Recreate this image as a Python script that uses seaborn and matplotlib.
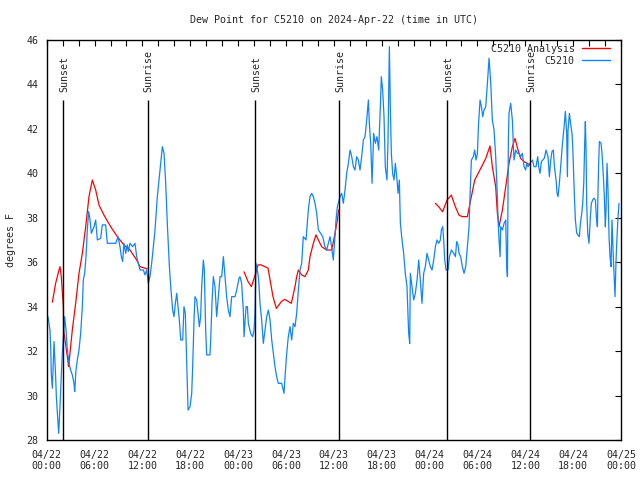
import matplotlib
matplotlib.use("Agg")
import matplotlib.pyplot as plt
from matplotlib.lines import Line2D
from matplotlib.ticker import MultipleLocator
import pandas as pd
import seaborn as sns

# hours since 2024-04-22 00:00 UTC
obs_hours = [0.16, 0.41, 0.50, 0.58, 0.71, 0.92, 1.12, 1.21, 1.42, 1.50, 1.67, 1.83, 1.96,
             2.25, 2.42, 2.59, 2.80, 3.00, 3.21, 3.42, 3.51, 3.67, 3.84, 4.05, 4.26, 4.47,
             4.59, 4.76, 4.93, 5.09, 5.26, 5.43, 5.60, 5.93, 6.14, 6.35, 6.77, 6.97, 7.39,
             7.60, 8.65, 8.94, 9.19, 9.36, 9.52, 9.69, 9.90, 10.11, 10.23, 10.44, 10.78,
             11.07, 11.28, 11.49, 11.70, 12.12, 12.32, 12.53, 12.74, 12.95, 13.16, 13.58,
             13.87, 14.20, 14.50, 14.71, 14.92, 15.12, 15.38, 15.58, 15.79, 15.96, 16.13,
             16.30, 16.42, 16.63, 16.80, 17.05, 17.21, 17.38, 17.55, 17.72, 17.97, 18.18,
             18.30, 18.47, 18.59, 18.80, 19.01, 19.14, 19.30, 19.43, 19.64, 19.76, 19.93,
             20.06, 20.47, 20.56, 20.72, 20.89, 21.10, 21.31, 21.52, 21.73, 21.94, 22.15,
             22.35, 22.56, 22.77, 22.98, 23.19, 23.61, 23.82, 24.11, 24.23, 24.44, 24.65,
             24.74, 24.99, 25.16, 25.28, 25.57, 25.82, 25.99, 26.11, 26.24, 26.41, 26.58,
             26.74, 26.95, 27.16, 27.37, 27.58, 27.79, 28.00, 28.21, 28.41, 28.62, 28.83,
             29.04, 29.46, 29.75, 29.88, 30.09, 30.29, 30.50, 30.71, 30.92, 31.13, 31.34,
             31.55, 31.76, 31.97, 32.17, 32.51, 32.80, 33.01, 33.22, 33.43, 33.64, 33.85,
             34.06, 34.35, 34.60, 34.89, 35.10, 35.31, 35.52, 35.72, 35.93, 36.14, 36.27,
             36.44, 36.61, 36.77, 36.98, 37.19, 37.40, 37.61, 37.82, 38.03, 38.24, 38.45,
             38.65, 38.86, 39.07, 39.28, 39.49, 39.70, 39.91, 40.12, 40.33, 40.45, 40.62,
             40.79, 40.99, 41.20, 41.41, 41.62, 41.83, 41.95, 42.12, 42.29, 42.45, 42.66,
             42.79, 42.96, 43.08, 43.21, 43.37, 43.54, 43.71, 43.92, 44.05, 44.21, 44.34,
             44.55, 44.75, 44.96, 45.17, 45.38, 45.51, 45.59, 45.80, 46.01, 46.22, 46.43,
             46.64, 46.84, 47.05, 47.26, 47.47, 47.68, 47.89, 48.10, 48.31, 48.52, 48.73,
             48.93, 49.14, 49.35, 49.48, 49.65, 49.77, 49.90, 50.07, 50.32, 50.49, 50.74,
             51.03, 51.24, 51.40, 51.57, 51.69, 51.90, 52.11, 52.32, 52.53, 52.74, 52.95,
             53.07, 53.24, 53.49, 53.66, 53.83, 54.00, 54.12, 54.33, 54.50, 54.66, 54.83,
             55.04, 55.25, 55.46, 55.67, 55.87, 56.08, 56.29, 56.42, 56.58, 56.71, 56.84,
             56.92, 57.13, 57.34, 57.55, 57.67, 57.76, 57.88, 57.96, 58.17, 58.38, 58.51,
             58.59, 58.80, 59.01, 59.21, 59.42, 59.63, 59.84, 60.05, 60.18, 60.35, 60.60,
             60.89, 61.10, 61.35, 61.56, 61.68, 61.85, 62.02, 62.39, 62.60, 62.85, 63.02,
             63.19, 63.35, 63.52, 63.65, 63.86, 63.98, 64.11, 64.27, 64.44, 64.61, 64.77,
             64.94, 65.03, 65.19, 65.28, 65.36, 65.53, 65.70, 65.86, 65.95, 66.16, 66.28,
             66.45, 66.78, 66.91, 67.08, 67.20, 67.33, 67.45, 67.53, 67.62, 67.70, 67.83,
             67.99, 68.16, 68.28, 68.45, 68.62, 68.79, 68.91, 69.04, 69.12, 69.20, 69.29,
             69.50, 69.62, 69.79, 69.91, 70.04, 70.12, 70.25, 70.37, 70.50, 70.62, 70.75,
             70.87, 71.00, 71.12, 71.25, 71.38, 71.50, 71.63, 71.75]
obs_dewpt = [33.55, 32.95, 32.13, 30.93, 30.33, 32.43, 30.85, 29.95, 28.75, 28.3, 29.5, 30.93, 31.9,
             33.55, 32.95, 32.05, 31.45, 31.15, 30.93, 30.55, 30.18, 31.15, 31.6, 32.05, 32.8, 34.0,
             35.2, 35.5, 36.25, 37.45, 38.28, 37.9, 37.3, 37.6, 37.9, 37.0, 37.08, 37.68, 37.68,
             36.85, 36.85, 37.15, 36.7, 36.25, 36.03, 36.85, 36.4, 36.78, 36.48, 36.85, 36.7,
             36.85, 36.25, 35.95, 35.65, 35.65, 35.43, 35.65, 35.05, 35.35, 35.95, 37.45,
             38.95, 40.15, 41.2, 40.9, 39.55, 37.75, 35.8, 34.75, 33.85, 33.55, 34.15,
             34.6, 34.15, 33.4, 32.5, 32.5, 34.0, 33.7, 31.45, 29.35, 29.5, 30.1,
             31.3, 33.4, 34.45, 34.3, 33.55, 33.1, 33.55, 34.9, 36.1, 35.65, 32.95,
             31.83, 31.83, 32.5, 34.15, 35.35, 34.9, 33.55, 34.45, 35.35, 35.35, 36.25,
             35.35, 34.45, 33.85, 33.55, 34.45, 34.45, 34.75, 35.28, 35.35, 35.05, 33.85,
             32.65, 34.0, 34.0, 33.25, 32.8, 32.65, 32.95, 33.7, 35.95, 35.65, 35.2,
             34.15, 33.4, 32.35, 32.95, 33.55, 33.85, 33.4, 32.5, 31.9, 31.3, 30.85,
             30.55, 30.55, 30.1, 30.85, 31.9, 32.65, 33.1, 32.5, 33.25, 33.1, 33.7,
             34.75, 35.65, 35.95, 37.15, 37.0, 38.35, 38.95, 39.1, 38.95, 38.65, 38.2,
             37.45, 37.3, 37.15, 36.7, 36.55, 36.85, 37.15, 36.7, 36.1, 37.15, 37.9,
             38.5, 38.73, 38.95, 39.1, 38.65, 39.25, 40.0, 40.45, 41.05, 40.75, 40.3,
             40.15, 40.75, 40.6, 40.15, 40.75, 41.5, 41.65, 42.4, 43.3, 42.25, 41.35,
             39.55, 41.8, 41.35, 41.65, 41.05, 43.0, 44.35, 43.75, 42.55, 40.3, 39.7,
             41.5, 45.7, 43.0, 40.9, 40.0, 39.7, 40.45, 39.7, 39.1, 39.7, 37.75,
             37.0, 36.4, 35.5, 34.9, 32.8, 32.35, 35.5, 34.9, 34.3, 34.6, 35.2,
             36.1, 35.2, 34.15, 35.5, 35.8, 36.4, 36.1, 35.8, 35.65, 36.1, 36.7,
             37.0, 36.85, 37.0, 37.45, 37.6, 37.0, 36.1, 35.65, 35.65, 36.25, 36.55,
             36.4, 36.25, 36.93, 36.78, 36.4, 36.25, 35.8, 35.5, 35.8, 36.7, 37.6,
             38.95, 40.6, 40.75, 41.05, 40.6, 40.9, 42.1, 43.3, 43.0, 42.55, 42.85,
             43.0, 44.05, 45.18, 44.05, 42.4, 41.95, 40.75, 39.7, 38.05, 37.0, 36.25,
             37.6, 37.45, 37.75, 37.9, 35.8, 35.35, 41.5, 42.7, 43.15, 42.4, 41.2,
             40.6, 41.05, 40.9, 40.9, 40.75, 40.9, 40.3, 40.15, 40.45, 40.3, 40.45,
             40.6, 40.3, 40.3, 40.75, 40.3, 40.0, 40.53, 40.68, 41.05, 40.75, 39.85,
             40.6, 40.98, 41.05, 40.3, 39.7, 39.1, 38.95, 39.55, 40.3, 41.13, 41.73,
             42.4, 42.78, 41.8, 39.85, 41.95, 42.7, 42.18, 41.8, 41.2, 38.95, 37.9,
             37.3, 37.15, 37.75, 38.2, 38.65, 39.55, 41.35, 42.33, 41.05, 38.65, 37.3,
             36.85, 38.05, 38.65, 38.8, 38.88, 38.8, 38.05, 37.6, 39.25, 40.45, 41.43,
             41.35, 40.9, 39.85, 38.95, 37.6, 38.35, 40.45, 39.25, 37.15, 36.25, 35.8,
             37.9, 36.55, 35.5, 34.45, 36.1, 37.15, 38.05, 38.65]

# analysis, three pieces with gaps between them
anl_hours_1 = [0.71, 1.12, 1.54, 1.67, 1.83, 2.09, 2.12, 2.59, 2.75, 3.21, 3.63, 4.05, 4.47,
               4.89, 5.30, 5.72, 6.14, 6.56, 7.18, 8.02, 8.86, 9.69, 10.44, 11.28, 11.70, 12.62]
anl_dewpt_1 = [34.2, 35.05, 35.65, 35.8, 35.35, 34.0, 32.95, 31.75, 31.3, 32.95, 34.15, 35.5, 36.4,
               37.6, 38.95, 39.7, 39.25, 38.57, 38.12, 37.6, 37.15, 36.77, 36.55, 36.1, 35.8, 35.7]
anl_hours_2 = [24.74, 25.24, 25.66, 26.07, 26.49, 26.90, 27.75, 28.37, 28.79, 29.42, 29.84, 30.67,
               31.13, 31.34, 31.55, 31.97, 32.38, 32.80, 33.01, 33.43, 33.76, 34.06, 34.47, 35.10,
               35.73, 36.15, 36.44, 36.60]
anl_dewpt_2 = [35.57, 35.13, 34.9, 35.35, 35.88, 35.88, 35.73, 34.45, 33.92, 34.23, 34.33, 34.15,
               34.9, 35.35, 35.65, 35.43, 35.35, 35.65, 36.25, 36.85, 37.23, 37.0, 36.7, 36.55,
               36.55, 37.3, 37.9, 38.35]
anl_hours_3 = [48.73, 49.14, 49.64, 50.19, 50.73, 51.23, 51.69, 52.11, 52.74, 53.07, 53.66, 54.41,
               55.04, 55.58, 55.87, 56.29, 56.50, 56.71, 57.13, 57.55, 57.96, 58.38, 58.71, 59.09,
               59.42, 59.84, 60.59]
anl_dewpt_3 = [38.65, 38.5, 38.27, 38.8, 39.02, 38.5, 38.12, 38.05, 38.05, 38.65, 39.7, 40.22,
               40.67, 41.23, 40.3, 39.4, 38.2, 37.6, 38.35, 39.4, 40.45, 41.2, 41.57, 41.05,
               40.67, 40.53, 40.38]

sunset_hours = [2.05, 26.15, 50.2]
sunrise_hours = [12.65, 36.65, 60.6]
tick_labels = ["04/22\n00:00", "04/22\n06:00", "04/22\n12:00", "04/22\n18:00",
               "04/23\n00:00", "04/23\n06:00", "04/23\n12:00", "04/23\n18:00",
               "04/24\n00:00", "04/24\n06:00", "04/24\n12:00", "04/24\n18:00",
               "04/25\n00:00"]

obs = pd.DataFrame({"hour": obs_hours, "dewpt": obs_dewpt})
anl = pd.concat([
    pd.DataFrame({"hour": anl_hours_1, "dewpt": anl_dewpt_1, "seg": 1}),
    pd.DataFrame({"hour": anl_hours_2, "dewpt": anl_dewpt_2, "seg": 2}),
    pd.DataFrame({"hour": anl_hours_3, "dewpt": anl_dewpt_3, "seg": 3}),
])

sns.set_style("white")
plt.rcParams["font.family"] = ["DejaVu Sans Mono"]
FS = 7.2
RED = "#ff0000"
BLUE = "#1084ff"

fig = plt.figure(figsize=(6.4, 4.8), dpi=100)
ax = fig.add_axes([46.7 / 640, 40 / 480, 574.3 / 640, 400 / 480])

sns.lineplot(data=anl, x="hour", y="dewpt", units="seg", estimator=None,
             color=RED, lw=0.9, ax=ax, legend=False)
sns.lineplot(data=obs, x="hour", y="dewpt", color=BLUE, lw=0.9, ax=ax,
             estimator=None, legend=False)

for h in sunset_hours:
    ax.vlines(h, 28, 43.3, color="black", lw=1.0)
    ax.text(h + 0.15, 43.65, "Sunset", rotation=90, ha="center", va="bottom", fontsize=FS)
for h in sunrise_hours:
    ax.vlines(h, 28, 43.3, color="black", lw=1.0)
    ax.text(h + 0.15, 43.65, "Sunrise", rotation=90, ha="center", va="bottom", fontsize=FS)

ax.set_xlim(0, 72)
ax.set_ylim(28, 46)
ax.xaxis.set_major_locator(MultipleLocator(6))
ax.xaxis.set_minor_locator(MultipleLocator(2))
ax.yaxis.set_major_locator(MultipleLocator(2))
ax.set_xticks(range(0, 73, 6))
ax.set_xticklabels(tick_labels)
ax.tick_params(which="both", direction="in", top=True, right=True, length=4,
               width=0.8, labelsize=FS, color="black")
ax.tick_params(axis="x", pad=7)
ax.tick_params(axis="y", pad=6)
for s in ax.spines.values():
    s.set_color("black")
    s.set_linewidth(1.0)

ax.set_xlabel("")
ax.set_ylabel("degrees F", fontsize=FS)
ax.yaxis.set_label_coords(-0.053, 0.5)
ax.set_title("Dew Point for C5210 on 2024-Apr-22 (time in UTC)", fontsize=FS, pad=12)

handles = [Line2D([], [], color=RED, lw=1.0), Line2D([], [], color=BLUE, lw=1.0)]
ax.legend(handles, ["C5210 Analysis", "C5210"], loc="upper right",
          bbox_to_anchor=(0.98, 0.99), frameon=False, markerfirst=False,
          fontsize=FS, handlelength=2.8, handletextpad=0.7, labelspacing=0.2,
          borderpad=0, borderaxespad=0)

fig.savefig("out.png", dpi=100)
